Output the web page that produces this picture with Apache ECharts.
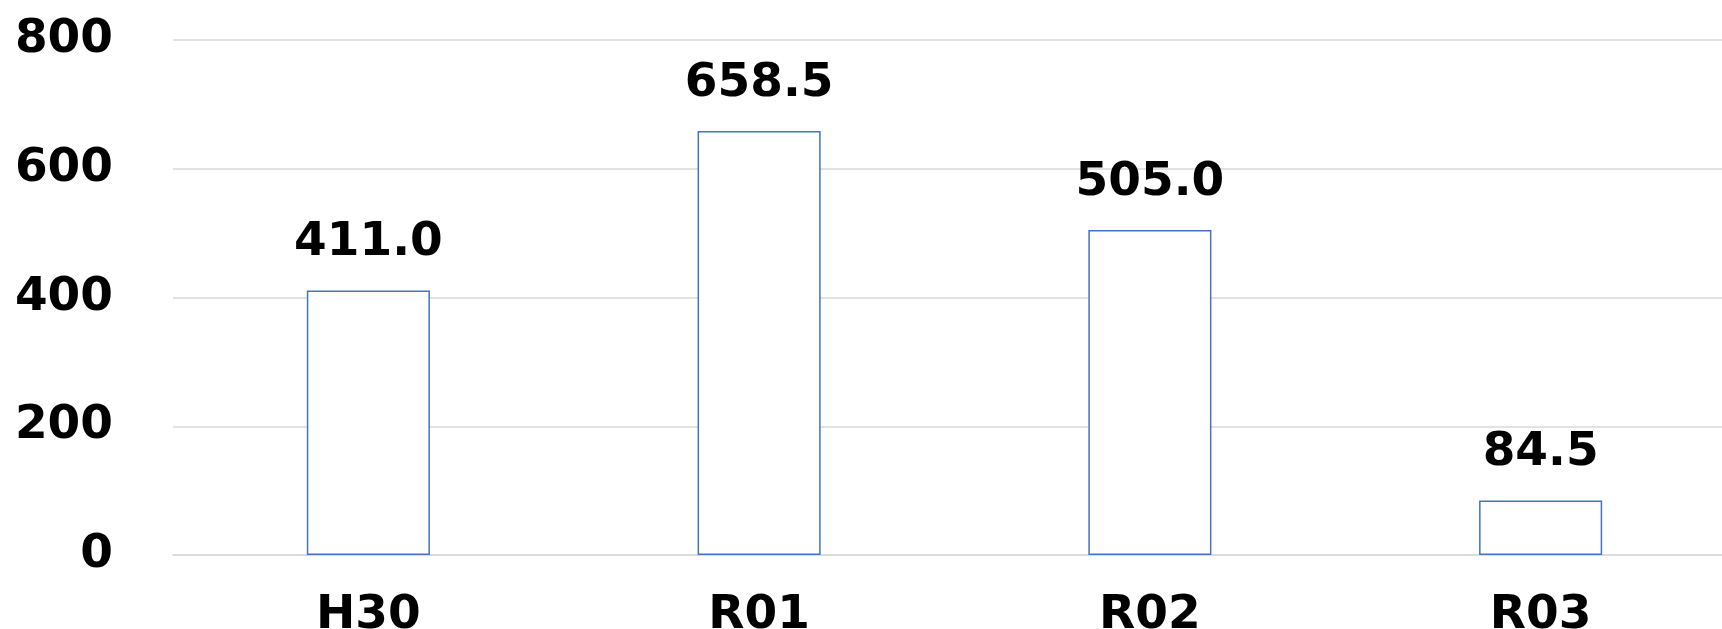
<!DOCTYPE html>
<html>
<head>
<meta charset="utf-8">
<script src="https://cdn.jsdelivr.net/npm/echarts@6/dist/echarts.min.js"></script>
<style>
  html, body { margin: 0; padding: 0; background: #fff; }
  #chart { width: 1722px; height: 629px; }
</style>
</head>
<body>
<div id="chart"></div>
<script>
  'use strict';

  const categories = ['H30', 'R01', 'R02', 'R03'];
  const values = [411.0, 658.5, 505.0, 84.5];
  const yTicks = [0, 200, 400, 600, 800];

  const fontFamily = '"DejaVu Sans", sans-serif';

  const chart = echarts.init(document.getElementById('chart'), null, { renderer: 'canvas' });

  chart.setOption({
    animation: false,
    // plot runs a little past the right edge, like the cropped original
    grid: { left: 173, width: 1563, top: 40, bottom: 74, outerBoundsMode: 'none' },
    xAxis: {
      type: 'category',
      data: categories,
      axisLine: { show: true, lineStyle: { color: '#d9d9d9', width: 1.5 } },
      axisTick: { show: false },
      axisLabel: {
        color: '#000',
        fontFamily: fontFamily,
        fontWeight: 'bold',
        fontSize: 47,
        margin: 37
      }
    },
    yAxis: {
      type: 'value',
      min: yTicks[0],
      max: yTicks[yTicks.length - 1],
      interval: 200,
      axisLine: { show: false },
      axisTick: { show: false },
      splitLine: { lineStyle: { color: '#d9d9d9', width: 1.5 } },
      axisLabel: {
        color: '#000',
        fontFamily: fontFamily,
        fontWeight: 'bold',
        fontSize: 47,
        margin: 60,
        padding: [0, 0, 10, 0]
      }
    },
    series: [
      {
        type: 'bar',
        data: values,
        barWidth: '31.5%',
        itemStyle: { color: '#fff', borderColor: '#4472c4', borderWidth: 1.5 },
        label: {
          show: true,
          position: 'top',
          distance: 24,
          color: '#000',
          fontFamily: fontFamily,
          fontWeight: 'bold',
          fontSize: 47,
          formatter: function (p) { return p.value.toFixed(1); }
        }
      }
    ]
  });
</script>
</body>
</html>
